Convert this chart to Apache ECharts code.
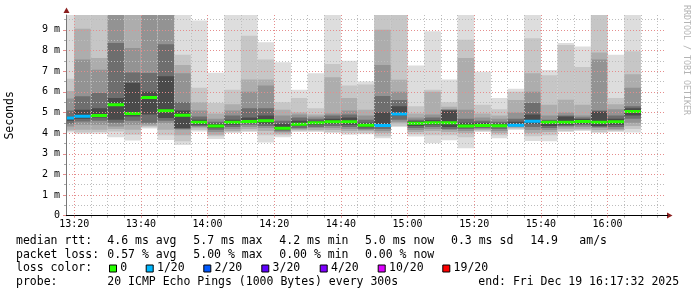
<!DOCTYPE html>
<html><head><meta charset="utf-8">
<script src="https://cdn.jsdelivr.net/npm/echarts@6/dist/echarts.min.js"></script>
<style>html,body{margin:0;padding:0;background:#fff}#c{width:697px;height:297px}</style>
</head><body><div id="c"></div><script>
// ---------- data ----------
const RANGE_START = '13:17:32';
const RANGE_END = '16:17:32';
const SLOT_STARTS = ['13:15','13:20','13:25','13:30','13:35','13:40','13:45','13:50','13:55','14:00',
  '14:05','14:10','14:15','14:20','14:25','14:30','14:35','14:40','14:45','14:50',
  '14:55','15:00','15:05','15:10','15:15','15:20','15:25','15:30','15:35','15:40',
  '15:45','15:50','15:55','16:00','16:05'];
const MEDIAN_MS = [4.73,4.82,4.85,5.37,4.95,5.72,5.08,4.86,4.52,4.35,4.52,4.56,4.60,4.23,4.43,4.50,4.55,4.55,4.38,4.37,
  4.93,4.48,4.50,4.50,4.35,4.37,4.36,4.38,4.58,4.52,4.53,4.56,4.52,4.55,5.05];
const LOSS_OF_20 = [1,1,0,0,0,0,0,0,0,0, 0,0,0,0,0,0,0,0,0,1, 1,0,0,0,0,0,0,1,1,0, 0,0,0,0,0];
// smoke bands: level 1 = outermost (lightest) ... level 6 = innermost (darkest)
const SMOKE_TOP_1 = [9.74,9.74,9.74,9.74,9.74,9.74,9.74,9.74,9.45,6.92,9.74,9.74,8.40,7.43,6.10,6.90,9.74,7.50,6.50,9.74,
  9.74,7.27,8.93,6.60,9.74,6.97,5.70,6.15,9.74,7.06,8.37,8.20,9.74,7.80,9.74];
const SMOKE_TOP_2 = [6.63,9.74,9.74,9.74,9.74,9.74,9.74,7.80,6.20,5.46,6.10,8.72,7.56,5.50,5.70,5.20,7.35,6.30,6.35,9.74,
  9.74,5.30,6.10,5.50,8.52,5.37,5.15,6.00,8.60,6.80,8.27,7.20,9.74,5.70,7.96];
const SMOKE_TOP_3 = [6.04,9.05,7.64,9.74,9.74,9.74,9.74,7.30,5.50,4.95,5.40,6.60,6.60,5.13,5.00,4.90,6.70,5.70,5.13,9.00,
  6.59,4.95,6.00,5.28,7.64,4.95,4.85,5.60,6.90,5.37,5.62,5.37,7.90,5.40,6.85];
const SMOKE_TOP_4 = [5.68,7.56,7.07,9.74,8.12,9.74,9.74,6.90,5.10,4.70,5.10,6.00,6.30,4.85,4.90,4.80,4.95,5.10,4.85,7.30,
  6.00,4.75,4.90,5.15,5.13,4.75,4.70,5.00,6.00,4.85,5.00,4.85,7.56,5.15,6.20];
const SMOKE_TOP_5 = [5.10,5.78,5.94,8.37,6.94,6.91,8.30,5.50,4.80,4.55,4.85,5.20,5.20,4.60,4.75,4.70,4.85,4.90,4.65,5.80,
  5.60,4.65,4.75,5.13,4.70,4.60,4.55,4.70,5.46,4.65,4.85,4.75,5.10,4.85,5.30];
const SMOKE_TOP_6 = [4.79,5.13,5.20,5.70,6.43,6.00,6.75,5.10,4.65,4.45,4.65,4.75,4.85,4.45,4.60,4.60,4.70,4.75,4.50,5.00,
  5.30,4.58,4.62,5.10,4.50,4.50,4.47,4.55,4.90,4.60,4.80,4.68,5.05,4.70,5.20];
const SMOKE_BOTTOM_1 = [4.03,3.97,3.97,3.80,3.64,4.22,3.67,3.43,4.08,3.71,4.00,4.05,3.55,3.80,4.05,4.05,4.00,3.92,3.95,3.75,
  4.30,3.84,3.51,3.65,3.27,4.05,3.75,4.15,3.62,3.60,4.05,4.10,4.00,4.05,4.03];
const SMOKE_BOTTOM_2 = [4.10,4.03,4.05,4.08,3.92,4.28,3.90,3.60,4.15,3.85,4.05,4.10,3.90,3.90,4.10,4.10,4.05,4.00,4.00,3.85,
  4.35,3.95,3.90,3.90,3.80,4.10,3.90,4.20,3.85,3.90,4.10,4.15,4.05,4.10,4.20];
const SMOKE_BOTTOM_3 = [4.16,4.16,4.16,4.20,4.16,4.35,4.16,3.90,4.24,3.92,4.10,4.20,4.10,3.98,4.15,4.15,4.15,4.10,4.10,4.00,
  4.48,4.05,4.10,4.05,4.00,4.15,4.00,4.25,4.00,4.05,4.20,4.20,4.15,4.15,4.35];
const SMOKE_BOTTOM_4 = [4.32,4.40,4.40,4.32,4.40,4.42,4.48,4.16,4.30,4.05,4.20,4.30,4.25,4.05,4.20,4.25,4.25,4.20,4.15,4.10,
  4.55,4.15,4.20,4.15,4.10,4.20,4.10,4.30,4.15,4.15,4.28,4.30,4.25,4.20,4.50];
const SMOKE_BOTTOM_5 = [4.45,4.56,4.60,4.50,4.60,4.50,4.60,4.20,4.35,4.16,4.30,4.40,4.35,4.12,4.25,4.30,4.35,4.30,4.20,4.20,
  4.65,4.25,4.30,4.20,4.20,4.25,4.20,4.33,4.30,4.25,4.35,4.38,4.30,4.30,4.70];
const SMOKE_BOTTOM_6 = [4.60,4.70,4.75,4.65,4.81,4.90,4.73,4.25,4.40,4.25,4.40,4.50,4.45,4.18,4.35,4.40,4.45,4.40,4.28,4.30,
  4.85,4.35,4.40,4.30,4.28,4.30,4.30,4.36,4.45,4.35,4.40,4.45,4.35,4.40,4.85];
const X_TICK_LABELS = ['13:20','13:40','14:00','14:20','14:40','15:00','15:20','15:40','16:00'];
const Y_TICK_VALUES = [0,1,2,3,4,5,6,7,8,9];
const Y_TICK_LABELS = ['0','1 m','2 m','3 m','4 m','5 m','6 m','7 m','8 m','9 m'];
const Y_MAX = 9.72;
const LOSS_KEYS = [0,1,2,3,4,10,19];
const LOSS_LABELS = ['0','1/20','2/20','3/20','4/20','10/20','19/20'];
const LOSS_COLORS = ['#26ff00','#00b8ff','#0059ff','#5e00ff','#7e00ff','#dd00ff','#ff0000'];
const STATS_RTT = ['4.6 ms avg','5.7 ms max','4.2 ms min','5.0 ms now','0.3 ms sd','14.9','am/s'];
const STATS_LOSS = ['0.57 % avg','5.00 % max','0.00 % min','0.00 % now'];
const PROBE_TEXT = '20 ICMP Echo Pings (1000 Bytes) every 300s';
const END_TEXT = 'end: Fri Dec 19 16:17:32 2025';

// ---------- helpers ----------
function toMin(s){const p=s.split(':').map(Number);return p[0]*60+p[1]+(p[2]||0)/60;}
function fmtMin(v){const h=Math.floor(v/60),m=Math.round(v-h*60);return String(h).padStart(2,'0')+':'+String(m).padStart(2,'0');}
const SLOT = 5;
const xMin = toMin(RANGE_START), xMax = toMin(RANGE_END);
const majorX = X_TICK_LABELS.map(toMin);
const minorX = [];
for (let v = Math.ceil(xMin/5)*5; v <= xMax; v += 5) { if (majorX.indexOf(v) < 0) minorX.push(v); }
const minorY = Y_TICK_VALUES.map(v => v + 0.5).filter(v => v < Y_MAX);
const SHADES = ['#dddddd','#c6c6c6','#adadad','#939393','#6e6e6e','#4a4a4a'];
const TOPS = [SMOKE_TOP_1,SMOKE_TOP_2,SMOKE_TOP_3,SMOKE_TOP_4,SMOKE_TOP_5,SMOKE_TOP_6];
const BOTS = [SMOKE_BOTTOM_1,SMOKE_BOTTOM_2,SMOKE_BOTTOM_3,SMOKE_BOTTOM_4,SMOKE_BOTTOM_5,SMOKE_BOTTOM_6];
const data = SLOT_STARTS.map((s,i) => [toMin(s)].concat(TOPS.map(a=>a[i]), BOTS.map(a=>a[i]), [MEDIAN_MS[i], LOSS_OF_20[i]]));
function lossColor(l){let c=LOSS_COLORS[0];LOSS_KEYS.forEach((k,j)=>{if(l>=k)c=LOSS_COLORS[j];});return c;}

const FONT = '"DejaVu Sans Mono", monospace';
const RED = '#e58d8d', GRAY = '#bdbdbd';

// ---------- legend graphics ----------
const graphics = [];
function txt(x,y,t,extra){graphics.push(Object.assign({type:'text',x:x,y:y,style:{text:t,font:'11.5px '+FONT,fill:'#000',textVerticalAlign:'middle',textAlign:'left'}},extra||{}));}
const L1=241, L2=254.7, L3=268.4, L4=282;
txt(16,L1,'median rtt:');
[107.3,193.3,279.3,365,451,530.3,579.3].forEach((x,i)=>txt(x,L1,STATS_RTT[i]));
txt(16,L2,'packet loss:');
[107.3,193.3,279.3,365].forEach((x,i)=>txt(x,L2,STATS_LOSS[i]));
txt(16,L3,'loss color:');
[109,145.7,203.3,261.3,319.7,377.7,442.3].forEach((x,i)=>{
  graphics.push({type:'rect',shape:{x:x+0.5,y:265,width:7,height:7},style:{fill:LOSS_COLORS[i],stroke:'#000',lineWidth:1}});
  txt(x+11.3,L3,LOSS_LABELS[i]);
});
txt(16,L4,'probe:');
txt(107.3,L4,PROBE_TEXT);
txt(478.3,L4,END_TEXT);
graphics.push({type:'text',x:686,y:60,rotation:-Math.PI/2,style:{text:'RRDTOOL / TOBI OETIKER',font:'8.3px '+FONT,fill:'#b4b4b4',textAlign:'center',textVerticalAlign:'middle'}});
// axis arrows
graphics.push({type:'polygon',shape:{points:[[63.5,13],[66.5,7.5],[69.5,13]]},style:{fill:'#8b1f1f'},z:20});
graphics.push({type:'polygon',shape:{points:[[667,212.5],[672.5,215.5],[667,218.5]]},style:{fill:'#8b1f1f'},z:20});
graphics.push({type:'line',shape:{x1:666,y1:215.5,x2:668,y2:215.5},style:{stroke:'#000',lineWidth:1},z:20});

const chart = echarts.init(document.getElementById('c'), null, {renderer:'canvas'});
chart.setOption({
  animation:false,
  backgroundColor:'#ffffff',
  grid:{left:66,top:15,width:600,bottom:81.3,containLabel:false,outerBoundsMode:'none'},
  xAxis:[{
    type:'value',min:xMin,max:xMax,position:'bottom',z:10,
    axisLine:{show:true,onZero:false,lineStyle:{color:'#000',width:1}},
    axisTick:{show:true,length:2,inside:false,lineStyle:{color:RED},customValues:majorX},
    axisLabel:{customValues:majorX,formatter:v=>fmtMin(v),fontFamily:'DejaVu Sans Mono',fontSize:10,color:'#000',margin:4},
    splitLine:{show:true,lineStyle:{color:RED,type:[1,2],width:1}}
  },{
    type:'value',min:xMin,max:xMax,position:'bottom',z:9,
    axisLine:{show:false,onZero:false},
    axisTick:{show:true,length:2,lineStyle:{color:'#aaa'},customValues:minorX},
    axisLabel:{show:false,customValues:minorX},
    splitLine:{show:true,lineStyle:{color:GRAY,type:[1,2],width:1}}
  }],
  yAxis:[{
    type:'value',min:0,max:Y_MAX,position:'left',z:10,
    name:'Seconds',nameLocation:'middle',nameGap:50,nameRotate:90,
    nameTextStyle:{fontFamily:'DejaVu Sans Mono',fontSize:11.5,color:'#000'},
    axisLine:{show:true,onZero:false,lineStyle:{color:'#777',width:1}},
    axisTick:{show:true,length:3,lineStyle:{color:RED},customValues:Y_TICK_VALUES},
    axisLabel:{customValues:Y_TICK_VALUES,formatter:v=>Y_TICK_LABELS[Y_TICK_VALUES.indexOf(Math.round(v))]||'',fontFamily:'DejaVu Sans Mono',fontSize:10,color:'#000',margin:6},
    splitLine:{show:true,lineStyle:{color:RED,type:[1,2],width:1}}
  },{
    type:'value',min:0,max:Y_MAX,position:'left',z:9,
    axisLine:{show:false,onZero:false},
    axisTick:{show:true,length:2,lineStyle:{color:'#aaa'},customValues:minorY},
    axisLabel:{show:false,customValues:minorY},
    splitLine:{show:true,lineStyle:{color:GRAY,type:[1,2],width:1}}
  }],
  series:[{
    type:'custom',xAxisIndex:0,yAxisIndex:0,clip:true,z:2,
    encode:{x:0,y:13},
    data:data,
    renderItem:function(params,api){
      const t0=api.value(0);
      const x0=api.coord([t0,0])[0], x1=api.coord([t0+SLOT,0])[0];
      const ch=[];
      for(let k=0;k<6;k++){
        const yt=api.coord([t0,api.value(1+k)])[1];
        const yb=api.coord([t0,api.value(7+k)])[1];
        ch.push({type:'rect',shape:{x:x0,y:yt,width:x1-x0,height:yb-yt},style:{fill:SHADES[k]}});
      }
      const ym=api.coord([t0,api.value(13)])[1];
      ch.push({type:'rect',shape:{x:x0,y:ym-1.5,width:x1-x0,height:3},style:{fill:lossColor(api.value(14))}});
      return {type:'group',children:ch};
    }
  }],
  graphic:graphics
});
</script></body></html>
